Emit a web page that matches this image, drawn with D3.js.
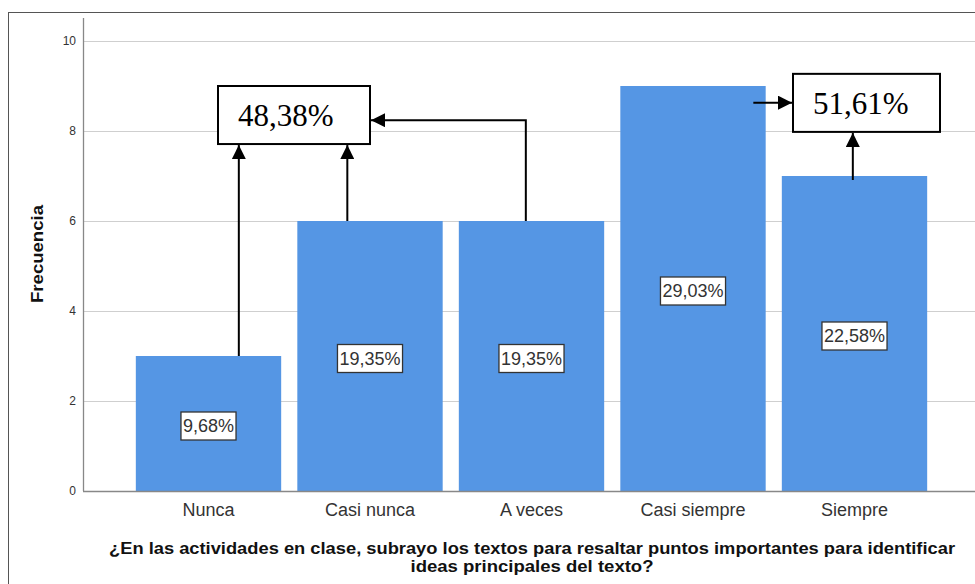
<!DOCTYPE html>
<html>
<head>
<meta charset="utf-8">
<script src="https://cdn.jsdelivr.net/npm/d3@7"></script>
<style>
  html, body { margin: 0; padding: 0; background: #fff; }
  svg { display: block; }
</style>
</head>
<body>
<svg id="chart" width="975" height="584"></svg>
<script>
// ---- data ----
const categories = ["Nunca", "Casi nunca", "A veces", "Casi siempre", "Siempre"];
const frequencies = [3, 6, 6, 9, 7];
const percentLabels = ["9,68%", "19,35%", "19,35%", "29,03%", "22,58%"];
const yTicks = [0, 2, 4, 6, 8, 10];
const groupLabels = ["48,38%", "51,61%"];
const yTitle = "Frecuencia";
const xTitleLines = ["¿En las actividades en clase, subrayo los textos para resaltar puntos importantes para identificar", "ideas principales del texto?"];

// ---- layout ----
const W = 975, H = 584;
const svg = d3.select("#chart");
const axisX = 83, yTop = 18;

const y = d3.scaleLinear().domain([0, 10]).range([491, 41]);
const x = d3.scaleBand().domain(categories).range([127.75, 935.25]).paddingInner(0.1).paddingOuter(0.05);

// outer frame
svg.append("rect").attr("x", 8.5).attr("y", 12.5).attr("width", W).attr("height", H)
  .attr("fill", "none").attr("stroke", "#555").attr("stroke-width", 1);

// gridlines
svg.append("g").selectAll("line").data(yTicks.filter(d => d > 0)).join("line")
  .attr("x1", axisX).attr("x2", W)
  .attr("y1", d => Math.round(y(d)) + 0.5).attr("y2", d => Math.round(y(d)) + 0.5)
  .attr("stroke", "#cfcfcf").attr("stroke-width", 1.2);

// tick labels
svg.append("g").selectAll("text").data(yTicks).join("text")
  .attr("x", 76).attr("y", d => y(d)).attr("dy", "0.35em")
  .attr("text-anchor", "end")
  .attr("font-family", "Liberation Sans, Arial, sans-serif").attr("font-size", 12)
  .attr("fill", "#333").text(d => d);

// bars
svg.append("g").selectAll("rect").data(categories).join("rect")
  .attr("x", d => x(d)).attr("width", x.bandwidth())
  .attr("y", (d, i) => y(frequencies[i]))
  .attr("height", (d, i) => y(0) - y(frequencies[i]))
  .attr("fill", "#5596e4");

// axes lines
svg.append("line").attr("x1", axisX + 0.5).attr("x2", axisX + 0.5).attr("y1", yTop).attr("y2", y(0))
  .attr("stroke", "#888").attr("stroke-width", 1.3);
svg.append("line").attr("x1", axisX).attr("x2", W).attr("y1", y(0) + 0.5).attr("y2", y(0) + 0.5)
  .attr("stroke", "#888").attr("stroke-width", 1.5);

// percent labels inside bars
const pl = svg.append("g").selectAll("g").data(categories).join("g")
  .attr("transform", (d, i) => `translate(${x(d) + x.bandwidth() / 2},${(y(frequencies[i]) + y(0)) / 2 + 2.5})`);
pl.append("text")
  .attr("text-anchor", "middle").attr("dy", "0.36em")
  .attr("font-family", "Liberation Sans, Arial, sans-serif").attr("font-size", 18)
  .attr("fill", "#333").text((d, i) => percentLabels[i]);
pl.each(function () {
  const g = d3.select(this);
  const bb = g.select("text").node().getBBox();
  g.insert("rect", "text")
    .attr("x", bb.x - 2).attr("y", -14).attr("width", bb.width + 4).attr("height", 28)
    .attr("fill", "#fff").attr("stroke", "#333").attr("stroke-width", 1.3);
});

// category labels
svg.append("g").selectAll("text").data(categories).join("text")
  .attr("x", d => x(d) + x.bandwidth() / 2).attr("y", 516)
  .attr("text-anchor", "middle")
  .attr("font-family", "Liberation Sans, Arial, sans-serif").attr("font-size", 18)
  .attr("fill", "#333").text(d => d);

// axis titles
svg.append("text")
  .attr("transform", `translate(43,254) rotate(-90)`)
  .attr("text-anchor", "middle")
  .attr("font-family", "Liberation Sans, Arial, sans-serif").attr("font-size", 17)
  .attr("font-weight", "bold").attr("fill", "#111")
  .attr("textLength", 98).attr("lengthAdjust", "spacingAndGlyphs")
  .text(yTitle);

const titleLens = [846, 243];
svg.append("g").selectAll("text").data(xTitleLines).join("text")
  .attr("x", 532).attr("y", (d, i) => 554 + i * 18)
  .attr("text-anchor", "middle")
  .attr("font-family", "Liberation Sans, Arial, sans-serif").attr("font-size", 16)
  .attr("font-weight", "bold").attr("fill", "#111")
  .attr("textLength", (d, i) => titleLens[i]).attr("lengthAdjust", "spacingAndGlyphs")
  .text(d => d);

// ---- annotations ----
const defs = svg.append("defs");
defs.append("marker").attr("id", "ah").attr("viewBox", "0 0 10 10")
  .attr("refX", 10).attr("refY", 5).attr("markerWidth", 7).attr("markerHeight", 7)
  .attr("markerUnits", "strokeWidth").attr("orient", "auto")
  .append("path").attr("d", "M0,0 L10,5 L0,10 Z").attr("fill", "#000");

const ann = svg.append("g");
const bx = c => x(c);
// boxes
const box1 = { x0: 218, x1: 370, y0: y(9.0), y1: y(7.71) };
const box2 = { x0: 793, x1: 940, y0: y(9.27), y1: y(7.98) };
[box1, box2].forEach((b, i) => {
  ann.append("rect").attr("x", b.x0).attr("y", b.y0).attr("width", b.x1 - b.x0).attr("height", b.y1 - b.y0)
    .attr("fill", "#fff").attr("stroke", "#000").attr("stroke-width", 2);
  ann.append("text").attr("x", b.x0 + 20).attr("y", (b.y0 + b.y1) / 2).attr("dy", "0.35em")
    .attr("font-family", "Liberation Serif, Times New Roman, serif").attr("font-size", 31)
    .attr("fill", "#000").text(groupLabels[i]);
});

const line = (pts) => ann.append("path").attr("d", d3.line()(pts))
  .attr("fill", "none").attr("stroke", "#000").attr("stroke-width", 2).attr("marker-end", "url(#ah)");

// Nunca -> box1
line([[bx("Nunca") + 103, y(frequencies[0])], [bx("Nunca") + 103, box1.y1 + 1]]);
// Casi nunca -> box1
line([[bx("Casi nunca") + 50, y(frequencies[1])], [bx("Casi nunca") + 50, box1.y1 + 1]]);
// A veces -> box1 (up then left)
line([[bx("A veces") + 67, y(frequencies[2])], [bx("A veces") + 67, y(8.24)], [box1.x1 + 1, y(8.24)]]);
// Casi siempre -> box2
line([[bx("Casi siempre") + 133, y(8.63)], [box2.x0 - 1, y(8.63)]]);
// Siempre -> box2
line([[bx("Siempre") + 71, y(frequencies[4]) + 4], [bx("Siempre") + 71, box2.y1 + 1]]);
</script>
</body>
</html>
